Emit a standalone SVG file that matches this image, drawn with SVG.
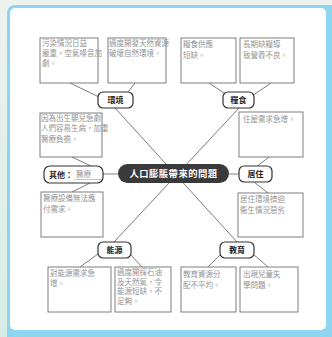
<svg xmlns="http://www.w3.org/2000/svg" width="332" height="337" viewBox="0 0 332 337">
<defs>
<linearGradient id="bg" x1="0" y1="0" x2="0" y2="1">
<stop offset="0" stop-color="#eef2ee"/>
<stop offset="0.5" stop-color="#e2efe9"/>
<stop offset="1" stop-color="#d6ece6"/>
</linearGradient>
<style>
.box{fill:#fff;stroke:#707070;stroke-width:0.9}
.cat{fill:#fff;stroke:#333;stroke-width:1.2}
.conn line{stroke:#5a5a5a;stroke-width:0.8;fill:none}
.hw{font-family:"Noto Sans CJK TC","Noto Sans CJK SC",sans-serif;fill:#939393;font-size:7.5px}
.lbl{font-family:"Noto Sans CJK TC","Noto Sans CJK SC",sans-serif;fill:#222;font-size:8px;font-weight:bold;text-anchor:middle}
</style>
</defs>
<rect x="0" y="0" width="332" height="337" fill="url(#bg)"/>
<rect x="7" y="5" width="340" height="350" rx="8" fill="#8ed6f0"/>
<rect x="10" y="8" width="316" height="322" rx="5" fill="#ffffff"/>

<g id="connectors" class="conn">
<line x1="115" y1="108" x2="237" y2="242"/>
<line x1="239" y1="108" x2="114" y2="242"/>
<line x1="103" y1="174" x2="118" y2="174"/>
<line x1="229" y1="174" x2="239" y2="174"/>
<line x1="70" y1="83" x2="99" y2="97"/>
<line x1="135" y1="83" x2="128" y2="92"/>
<line x1="209" y1="83" x2="227" y2="95"/>
<line x1="271" y1="83" x2="252" y2="96"/>
<line x1="72" y1="157" x2="93" y2="167"/>
<line x1="90" y1="183" x2="72" y2="192"/>
<line x1="269" y1="157" x2="256" y2="167"/>
<line x1="254" y1="182" x2="268" y2="193"/>
<line x1="98" y1="254" x2="80" y2="267"/>
<line x1="130" y1="254" x2="142" y2="267"/>
<line x1="221" y1="254" x2="208" y2="267"/>
<line x1="253" y1="254" x2="268" y2="267"/>
</g>

<g id="center">
<rect x="118" y="164" width="111" height="19" rx="9.5" fill="#3a3a3a"/>
<text x="173.5" y="177.3" text-anchor="middle" font-family="'Noto Sans CJK TC','Noto Sans CJK SC',sans-serif" font-size="9.3" font-weight="bold" fill="#fff" letter-spacing="0.5">人口膨脹帶來的問題</text>
</g>

<g id="cat-env"><rect class="cat" x="98" y="92" width="35" height="16" rx="5"/><text class="lbl" x="115.5" y="103">環境</text></g>
<g id="cat-food"><rect class="cat" x="223" y="92" width="31" height="16" rx="5"/><text class="lbl" x="238.5" y="103">糧食</text></g>
<g id="cat-other"><rect class="cat" x="44" y="166" width="59" height="17" rx="6"/><text class="lbl" x="61" y="177.5">其他：</text><text class="hw" x="76" y="177" font-size="8">醫療</text><line x1="74" y1="179.5" x2="101" y2="179.5" stroke="#999" stroke-width="0.6"/></g>
<g id="cat-house"><rect class="cat" x="239" y="166" width="33" height="16" rx="5"/><text class="lbl" x="255.5" y="177">居住</text></g>
<g id="cat-energy"><rect class="cat" x="98" y="242" width="33" height="16" rx="5"/><text class="lbl" x="114.5" y="253">能源</text></g>
<g id="cat-edu"><rect class="cat" x="220" y="242" width="34" height="16" rx="5"/><text class="lbl" x="237" y="253">教育</text></g>

<g id="box-env1"><rect class="box" x="40" y="38" width="58" height="45"/>
<text class="hw" x="42" y="46">污染情況日益</text><text class="hw" x="42" y="56">嚴重，空氣噪音加</text><text class="hw" x="42" y="66">劇。</text></g>
<g id="box-env2"><rect class="box" x="108" y="38" width="58" height="45"/>
<text class="hw" x="109" y="46" font-size="7">過度開發天然資源</text><text class="hw" x="109" y="56" font-size="7">破壞自然環境。</text></g>
<g id="box-food1"><rect class="box" x="181" y="38" width="55" height="45"/>
<text class="hw" x="183" y="47" font-size="9">糧食供應</text><text class="hw" x="183" y="58" font-size="9">短缺。</text></g>
<g id="box-food2"><rect class="box" x="240" y="38" width="54" height="45"/>
<text class="hw" x="243" y="47" font-size="8.5">長期缺糧導</text><text class="hw" x="243" y="58" font-size="8">致營養不良。</text></g>
<g id="box-other1"><rect class="box" x="40" y="113" width="62" height="44"/>
<text class="hw" x="41" y="121" font-size="7.2">因為出生嬰兒急劇</text><text class="hw" x="41" y="131" font-size="6.6">人們容易生病，加重</text><text class="hw" x="41" y="142" font-size="7.5">醫療負擔。</text></g>
<g id="box-other2"><rect class="box" x="41" y="192" width="62" height="45"/>
<text class="hw" x="43" y="201" font-size="8">醫療設備無法應</text><text class="hw" x="43" y="212" font-size="8">付需求。</text></g>
<g id="box-house1"><rect class="box" x="239" y="112" width="64" height="45"/>
<text class="hw" x="243" y="122" font-size="8.5">住屋需求急增。</text></g>
<g id="box-house2"><rect class="box" x="238" y="193" width="65" height="44"/>
<text class="hw" x="240" y="202" font-size="9">居住環境擠迫</text><text class="hw" x="240" y="213" font-size="9">衞生情況惡劣</text></g>
<g id="box-energy1"><rect class="box" x="48" y="267" width="63" height="45"/>
<text class="hw" x="50" y="276" font-size="8.5">對能源需求急</text><text class="hw" x="50" y="286" font-size="8">增。</text></g>
<g id="box-energy2"><rect class="box" x="115" y="267" width="56" height="45"/>
<text class="hw" x="117" y="275" font-size="7.5">過度開採石油</text><text class="hw" x="117" y="284.5" font-size="7.5">及天然氣，令</text><text class="hw" x="117" y="294" font-size="7.5">能源短缺，不</text><text class="hw" x="117" y="303.5" font-size="7">足夠。</text></g>
<g id="box-edu1"><rect class="box" x="181" y="267" width="55" height="45"/>
<text class="hw" x="183" y="277" font-size="9.5">教育資源分</text><text class="hw" x="183" y="288" font-size="9">配不平均。</text></g>
<g id="box-edu2"><rect class="box" x="240" y="267" width="58" height="45"/>
<text class="hw" x="243" y="277" font-size="9.5">出現兒童失</text><text class="hw" x="243" y="288" font-size="9">學問題。</text></g>
</svg>
